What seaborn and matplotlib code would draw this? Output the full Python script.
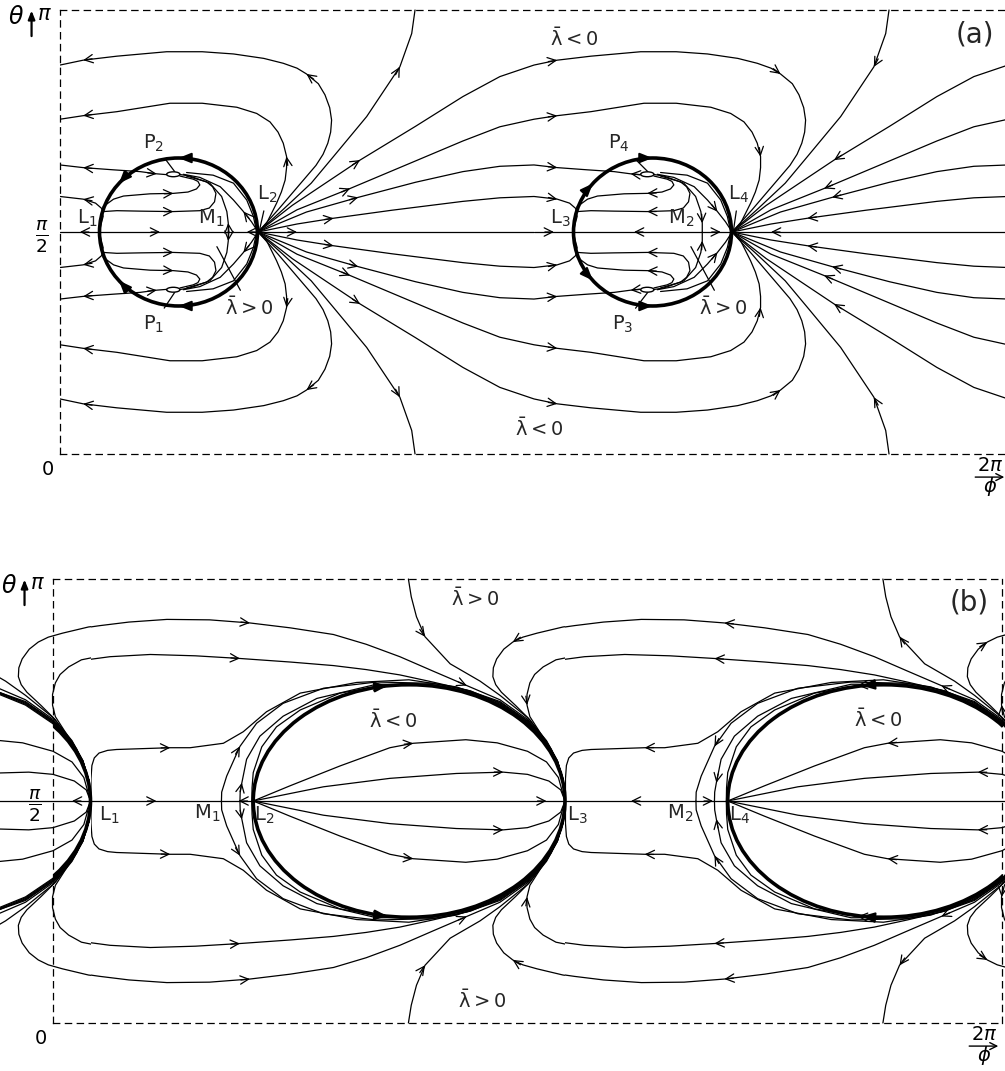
import numpy as np
import pandas as pd
import matplotlib
import matplotlib.pyplot as plt
import seaborn as sns
from matplotlib.patches import Ellipse, Rectangle

matplotlib.use("agg")

# positions are in units of pi: phi/pi across (0..2), theta/pi up (0..1).
# curves are given for the upper half of one period cell; the lower half is
# the mirror image and the next cell repeats with the flow reversed.
# arrows: (index of point, +1 along the point order / -1 against it)

# ---------------- panel (a) ----------------
A_LOOPS = [
    dict(phi=[0, 0.049, 0.120, 0.225, 0.300, 0.366, 0.430, 0.471, 0.500, 0.520, 0.545, 0.559, 0.569,
              0.573, 0.571, 0.565, 0.555, 0.540, 0.520, 0.500, 0.460, 0.418],
         theta=[0.876, 0.887, 0.896, 0.906, 0.906, 0.901, 0.891, 0.880, 0.869, 0.856, 0.834, 0.809, 0.780,
                0.752, 0.725, 0.700, 0.675, 0.650, 0.625, 0.600, 0.550, 0.500],
         arrows=[(1, -1), (9, -1)]),
    dict(phi=[0, 0.049, 0.120, 0.232, 0.300, 0.373, 0.415, 0.443, 0.460, 0.471, 0.478, 0.478, 0.475,
              0.467, 0.457, 0.436, 0.418],
         theta=[0.754, 0.762, 0.771, 0.790, 0.790, 0.781, 0.767, 0.748, 0.725, 0.700, 0.670, 0.645, 0.617,
                0.590, 0.565, 0.520, 0.500],
         arrows=[(1, -1), (10, -1)]),
]
A_RAYS = [
    dict(phi=[0.418, 0.470, 0.530, 0.577, 0.647, 0.717, 0.742, 0.749],
         theta=[0.500, 0.550, 0.610, 0.670, 0.760, 0.872, 0.947, 1.000], arrows=[(5, 1)]),
    dict(phi=[0.418, 0.490, 0.560, 0.633, 0.750, 0.850, 0.928, 1.000],
         theta=[0.500, 0.560, 0.610, 0.662, 0.738, 0.805, 0.850, 0.876], arrows=[(3, 1)]),
    dict(phi=[0.418, 0.500, 0.612, 0.750, 0.850, 0.928, 1.000],
         theta=[0.500, 0.550, 0.598, 0.660, 0.705, 0.737, 0.754], arrows=[(2, 1)]),
    dict(phi=[0.418, 0.520, 0.629, 0.750, 0.850, 0.928, 1.000],
         theta=[0.500, 0.545, 0.578, 0.612, 0.636, 0.648, 0.651], arrows=[(2, 1)]),
    dict(phi=[0.418, 0.500, 0.577, 0.700, 0.850, 0.928, 1.000],
         theta=[0.500, 0.518, 0.531, 0.549, 0.569, 0.577, 0.580], arrows=[(2, 1)]),
]
A_INNER = [
    dict(phi=[0, 0.049, 0.113, 0.169, 0.204, 0.239],
         theta=[0.651, 0.645, 0.640, 0.636, 0.631, 0.628], arrows=[(1, -1), (4, 1)]),
    dict(phi=[0, 0.049, 0.075, 0.088, 0.091, 0.086, 0.083],
         theta=[0.580, 0.574, 0.565, 0.553, 0.535, 0.515, 0.500], arrows=[(1, -1)]),
    dict(phi=[0.091, 0.113, 0.134, 0.190, 0.239, 0.270, 0.288, 0.295, 0.291, 0.281, 0.253],
         theta=[0.557, 0.574, 0.581, 0.586, 0.587, 0.590, 0.597, 0.606, 0.614, 0.619, 0.626], arrows=[(4, 1)]),
    dict(phi=[0.091, 0.120, 0.169, 0.239, 0.295, 0.315, 0.326, 0.329, 0.322, 0.309, 0.267],
         theta=[0.546, 0.548, 0.547, 0.546, 0.548, 0.554, 0.568, 0.587, 0.602, 0.613, 0.626], arrows=[(3, 1)]),
    dict(phi=[0.355, 0.355, 0.352, 0.341, 0.316, 0.274, 0.250],
         theta=[0.500, 0.520, 0.546, 0.580, 0.610, 0.626, 0.630], arrows=[(1, 1)]),
    dict(phi=[0.418, 0.404, 0.387, 0.366, 0.338, 0.295, 0.260],
         theta=[0.500, 0.523, 0.546, 0.572, 0.602, 0.623, 0.630], arrows=[(2, 1)]),
    dict(phi=[0.415, 0.408, 0.394, 0.366, 0.323, 0.267],
         theta=[0.500, 0.535, 0.572, 0.610, 0.628, 0.634], arrows=[]),
]
A_AXIS = [dict(phi=[0, 0.042, 0.211, 0.355, 0.394, 0.500, 1.000],
               theta=[0.5] * 7, arrows=[(1, -1), (2, 1), (4, -1), (5, 1)])]
A_CIRCLE = dict(center=(0.25, 0.5), width=0.3333, height=0.3333)
A_CIRCLE_MARKS = [(90, 1), (139, 1), (221, -1), (270, -1)]  # (angle, +1 ccw / -1 cw)
A_FOCUS = dict(center=(0.239, 0.630), width=0.028, height=0.011)
A_CELLS = [(0.0, 1, 0.0, 1.0), (1.0, -1, 1.0, 2.0)]  # (shift, flow, from, to)

# ---------------- panel (b) ----------------
B_OUTER = [
    dict(phi=[0.000, 0.040, 0.099, 0.160, 0.240, 0.330, 0.415, 0.500, 0.591, 0.660, 0.731, 0.800, 0.872,
              0.942, 1.000, 1.040, 1.063, 1.075, 1.079],
         theta=[0.875, 0.886, 0.895, 0.903, 0.909, 0.908, 0.901, 0.890, 0.875, 0.853, 0.825, 0.793, 0.760,
                0.728, 0.684, 0.634, 0.590, 0.548, 0.500],
         arrows=[(6, 1), (12, 1)]),
    dict(phi=[0.000, 0.004, 0.015, 0.035, 0.064, 0.120, 0.205, 0.300, 0.394, 0.500, 0.591, 0.660, 0.731,
              0.800, 0.872, 0.942, 1.000, 1.040, 1.063, 1.075, 1.079],
         theta=[0.752, 0.775, 0.793, 0.808, 0.817, 0.825, 0.830, 0.827, 0.821, 0.813, 0.805, 0.796, 0.784,
                0.768, 0.750, 0.724, 0.681, 0.632, 0.589, 0.548, 0.500],
         arrows=[(8, 1)]),
    dict(phi=[0.749, 0.755, 0.766, 0.784, 0.837, 0.900, 0.942, 1.000, 1.040, 1.063, 1.075, 1.079],
         theta=[1.000, 0.960, 0.915, 0.870, 0.809, 0.770, 0.738, 0.688, 0.636, 0.591, 0.548, 0.500],
         arrows=[(3, 1)]),
    dict(phi=[1.216, 1.140, 1.075, 1.020, 0.990, 0.969, 0.950, 0.935, 0.928, 0.927, 0.933, 0.945, 0.960,
              0.975, 1.005, 1.040, 1.063, 1.075, 1.079],
         theta=[0.905, 0.900, 0.892, 0.878, 0.869, 0.858, 0.842, 0.820, 0.800, 0.780, 0.762, 0.745, 0.730,
                0.715, 0.683, 0.632, 0.590, 0.548, 0.500],
         arrows=[(5, 1)]),
    dict(phi=[1.216, 1.111, 1.060, 1.033, 1.015, 1.005, 0.999, 0.999, 1.005, 1.026, 1.050, 1.066, 1.075, 1.079],
         theta=[0.836, 0.829, 0.818, 0.802, 0.785, 0.766, 0.740, 0.716, 0.690, 0.655, 0.617, 0.577, 0.548, 0.500],
         arrows=[(7, 1)]),
]
B_AROUND = [
    dict(phi=[0.080, 0.080, 0.082, 0.087, 0.097, 0.115, 0.134, 0.190, 0.247, 0.289, 0.359, 0.401, 0.450,
              0.521, 0.640, 0.750, 0.850, 0.942, 1.000, 1.040, 1.063, 1.075, 1.079],
         theta=[0.500, 0.550, 0.580, 0.597, 0.608, 0.614, 0.616, 0.618, 0.620, 0.620, 0.630, 0.656, 0.701,
                0.743, 0.767, 0.773, 0.757, 0.722, 0.680, 0.631, 0.589, 0.548, 0.500],
         arrows=[(8, 1)]),
    dict(phi=[0.355, 0.3555, 0.366, 0.394, 0.429, 0.485, 0.570, 0.682, 0.800, 0.880, 0.942, 1.000, 1.040,
              1.063, 1.075, 1.079],
         theta=[0.500, 0.520, 0.556, 0.623, 0.675, 0.720, 0.754, 0.768, 0.765, 0.748, 0.720, 0.678, 0.630,
                0.588, 0.548, 0.500],
         arrows=[(3, 1)]),
    dict(phi=[0.394, 0.3945, 0.398, 0.408, 0.436, 0.485, 0.556, 0.682, 0.800, 0.880, 0.942, 1.000, 1.040,
              1.063, 1.075, 1.079],
         theta=[0.500, 0.520, 0.541, 0.594, 0.646, 0.691, 0.731, 0.763, 0.762, 0.745, 0.718, 0.676, 0.629,
                0.587, 0.548, 0.500],
         arrows=[(2, 1)]),
    dict(phi=[0.419, 0.4195, 0.422, 0.440, 0.471, 0.521, 0.605, 0.696, 0.800, 0.880, 0.942, 1.000, 1.040,
              1.063, 1.075, 1.079],
         theta=[0.500, 0.530, 0.564, 0.622, 0.667, 0.705, 0.743, 0.760, 0.760, 0.743, 0.716, 0.674, 0.628,
                0.586, 0.548, 0.500],
         arrows=[(7, 1)]),
]
B_INNER = [
    dict(phi=[0.422, 0.499, 0.605, 0.710, 0.759, 0.870, 0.936, 1.000, 1.040, 1.065, 1.079],
         theta=[0.500, 0.534, 0.579, 0.620, 0.630, 0.638, 0.631, 0.612, 0.588, 0.553, 0.500],
         arrows=[(4, 1)]),
    dict(phi=[0.422, 0.570, 0.710, 0.850, 0.949, 1.000, 1.045, 1.070, 1.079],
         theta=[0.500, 0.532, 0.551, 0.562, 0.565, 0.560, 0.545, 0.525, 0.500],
         arrows=[(4, 1)]),
]
B_AXIS = [dict(phi=[0.070, 0.218, 0.355, 0.391, 0.422, 1.040, 1.090],
               theta=[0.5] * 7, arrows=[(1, 1), (3, -1), (5, 1)])]
B_ELLIPSE = dict(center=(0.7505, 0.5), width=0.657, height=0.524)
B_ELLIPSE_MARKS = [(98, -1), (262, 1)]
B_CELLS = [(-1.0, -1, -0.9205, 0.0795), (0.0, 1, 0.0795, 1.0795), (1.0, -1, 1.0795, 2.0795)]

LAM_NEG = r"$\bar{\mathrm{\lambda}} < 0$"
LAM_POS = r"$\bar{\mathrm{\lambda}} > 0$"
A_LABELS = [
    (r"L$_1$", 0.058, 0.530), (r"M$_1$", 0.318, 0.530), (r"L$_3$", 1.055, 0.530), (r"M$_2$", 1.311, 0.530),
    (LAM_NEG, 1.085, 0.935), (LAM_NEG, 1.010, 0.058), ("(a)", 1.930, 0.945),
]
A_POINTERS = [  # text, text position, tip
    (r"P$_2$", 0.197, 0.700, 0.242, 0.636), (r"P$_1$", 0.197, 0.292, 0.242, 0.364),
    (r"P$_4$", 1.180, 0.700, 1.240, 0.636), (r"P$_3$", 1.188, 0.292, 1.240, 0.364),
    (r"L$_2$", 0.438, 0.585, 0.421, 0.505), (r"L$_4$", 1.432, 0.585, 1.421, 0.505),
    (LAM_POS, 0.400, 0.330, 0.331, 0.467), (LAM_POS, 1.400, 0.330, 1.331, 0.467),
]
B_LABELS = [
    (r"L$_1$", 0.118, 0.468), (r"M$_1$", 0.325, 0.472), (r"L$_2$", 0.446, 0.468),
    (r"L$_3$", 1.105, 0.468), (r"M$_2$", 1.321, 0.472), (r"L$_4$", 1.446, 0.468),
    (LAM_NEG, 0.717, 0.682), (LAM_NEG, 1.739, 0.684),
    (LAM_POS, 0.889, 0.955), (LAM_POS, 0.905, 0.050), ("(b)", 1.930, 0.948),
]


def chevron(ax, x, y, dx, dy, bold=False):
    p0 = ax.transData.transform((x, y))
    p1 = ax.transData.transform((x + dx, y + dy))
    v = (p1 - p0) / np.hypot(*(p1 - p0))
    if bold:
        style, lw, tail = "-|>,head_length=0.75,head_width=0.3", 1.5, 10
    else:
        style, lw, tail = "->,head_length=0.6,head_width=0.3", 0.9, 9
    ax.annotate("", xy=(x, y), xytext=(-v[0] * tail, -v[1] * tail), textcoords="offset pixels",
                arrowprops=dict(arrowstyle=style, color="black", lw=lw, shrinkA=0, shrinkB=0,
                                mutation_scale=10))


def draw_curves(ax, curves, cells, mirror=True):
    for shift, flow, lo, hi in cells:
        rows, heads = [], []
        for k, c in enumerate(curves):
            for lower in ((False, True) if mirror else (False,)):
                x = np.array(c["phi"]) + shift
                y = 1 - np.array(c["theta"]) if lower else np.array(c["theta"])
                name = f"{k}{'l' if lower else 'u'}"
                rows += [(name, a, b) for a, b in zip(x, y)]
                for i, s in c["arrows"]:
                    if max(lo, 0) <= x[i] <= min(hi, 2):
                        j0, j1 = max(i - 1, 0), min(i + 1, len(x) - 1)
                        heads.append((x[i], y[i], (x[j1] - x[j0]) * s * flow, (y[j1] - y[j0]) * s * flow))
        df = pd.DataFrame(rows, columns=["curve", "phi", "theta"])
        n0 = len(ax.lines)
        sns.lineplot(data=df, x="phi", y="theta", units="curve", estimator=None, sort=False,
                     color="black", linewidth=0.9, legend=False, ax=ax)
        clip = Rectangle((lo, -1), hi - lo, 3, transform=ax.transData)
        for ln in ax.lines[n0:]:
            ln.set_clip_path(clip)
        for h in heads:
            chevron(ax, *h)


def draw_oval(ax, spec, marks, cells, lw):
    cx, cy = spec["center"]
    rx, ry = spec["width"] / 2, spec["height"] / 2
    for shift, flow, lo, hi in cells:
        ax.add_patch(Ellipse((cx + shift, cy), spec["width"], spec["height"], fill=False,
                             ec="black", lw=lw, zorder=3))
        for ang, turn in marks:
            t = np.deg2rad(ang)
            x, y = cx + shift + rx * np.cos(t), cy + ry * np.sin(t)
            if 0 <= x <= 2:
                chevron(ax, x, y, -rx * np.sin(t) * turn * flow, ry * np.cos(t) * turn * flow, bold=True)


def frame(ax):
    ax.set_xlim(0, 2)
    ax.set_ylim(0, 1)
    ax.set_xticks([])
    ax.set_yticks([])
    for sp in ax.spines.values():
        sp.set_linestyle((0, (5, 4.5)))
        sp.set_linewidth(0.9)
        sp.set_color("black")
    kw = dict(clip_on=False, ha="center", va="center", color="black")
    ax.text(-0.092, 0.985, r"$\theta$", fontsize=17, **kw)
    ax.annotate("", xy=(-0.060, 1.005), xytext=(-0.060, 0.935),
                arrowprops=dict(arrowstyle="-|>,head_length=0.5,head_width=0.2", lw=1.6, color="black"),
                annotation_clip=False)
    ax.text(-0.033, 0.99, r"$\pi$", fontsize=15, **kw)
    ax.text(-0.038, 0.49, r"$\frac{\pi}{2}$", fontsize=19, **kw)
    ax.text(-0.025, -0.036, "0", fontsize=14, **kw)
    ax.text(1.963, -0.027, r"$2\pi$", fontsize=14, **kw)
    ax.annotate("", xy=(1.998, -0.052), xytext=(1.925, -0.052),
                arrowprops=dict(arrowstyle="->,head_length=0.5,head_width=0.25", lw=1.0, color="black"),
                annotation_clip=False)
    ax.text(1.962, -0.073, r"$\phi$", fontsize=14, **kw)


sns.set_style("white")
plt.rcParams["font.family"] = ["DejaVu Sans"]
plt.rcParams["mathtext.fontset"] = "dejavusans"

fig = plt.figure(figsize=(10.05, 10.71), dpi=100)
ax_a = fig.add_axes([60 / 1005, (1071 - 454) / 1071, 948 / 1005, 444 / 1071])
ax_b = fig.add_axes([53 / 1005, (1071 - 1023) / 1071, 949 / 1005, 444 / 1071])

# panel (a)
frame(ax_a)
draw_curves(ax_a, A_LOOPS + A_RAYS + A_INNER, A_CELLS)
draw_curves(ax_a, A_AXIS, A_CELLS, mirror=False)
draw_oval(ax_a, A_CIRCLE, A_CIRCLE_MARKS, A_CELLS, lw=2.6)
for shift, flow, lo, hi in A_CELLS:
    for yc in (A_FOCUS["center"][1], 1 - A_FOCUS["center"][1]):
        ax_a.add_patch(Ellipse((A_FOCUS["center"][0] + shift, yc), A_FOCUS["width"], A_FOCUS["height"],
                               fill=True, fc="white", ec="black", lw=1.0, zorder=4))
for txt, x, y in A_LABELS:
    ax_a.text(x, y, txt, fontsize=20 if txt == "(a)" else 14, ha="center", va="center")
for txt, x, y, tx, ty in A_POINTERS:
    ax_a.annotate(txt, xy=(tx, ty), xytext=(x, y), fontsize=14, ha="center", va="center",
                  arrowprops=dict(arrowstyle="-", lw=0.9, color="black", shrinkA=2, shrinkB=0))

# panel (b)
frame(ax_b)
draw_curves(ax_b, B_OUTER + B_AROUND + B_INNER, B_CELLS)
draw_curves(ax_b, B_AXIS, B_CELLS, mirror=False)
draw_oval(ax_b, B_ELLIPSE, B_ELLIPSE_MARKS, B_CELLS, lw=2.6)
for txt, x, y in B_LABELS:
    ax_b.text(x, y, txt, fontsize=20 if txt == "(b)" else 14, ha="center", va="center")

for ax in (ax_a, ax_b):
    ax.set_xlabel("")
    ax.set_ylabel("")

fig.savefig("out.png", dpi=100)
